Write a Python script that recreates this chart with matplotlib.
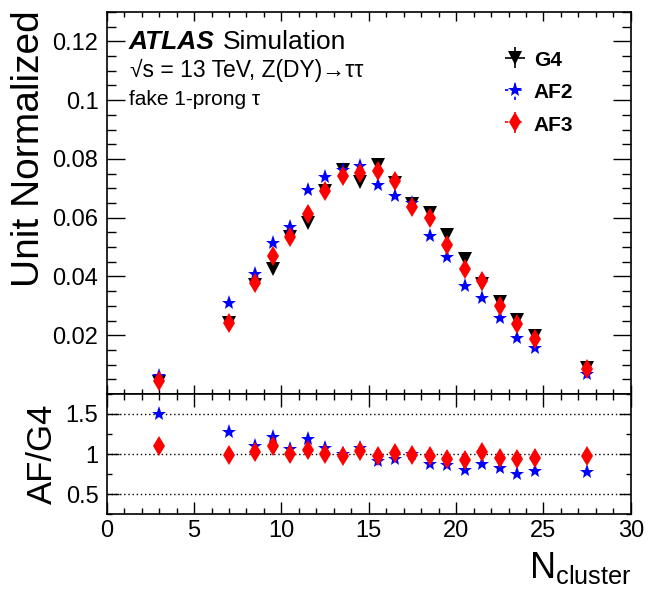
import numpy as np
import matplotlib
matplotlib.use("Agg")
import matplotlib.pyplot as plt
from matplotlib.ticker import MultipleLocator

plt.rcParams['font.family'] = ['Liberation Sans', 'DejaVu Sans']
plt.rcParams['mathtext.fontset'] = 'custom'
plt.rcParams['mathtext.rm'] = 'Liberation Sans'

# N_cluster bin centres
n_cluster = [3, 7, 8.5, 9.5, 10.5, 11.5, 12.5, 13.5, 14.5, 15.5, 16.5,
             17.5, 18.5, 19.5, 20.5, 21.5, 22.5, 23.5, 24.5, 27.5]

# unit normalized distributions
g4 = [0.0040, 0.0243, 0.0372, 0.0425, 0.0535, 0.0583, 0.0692, 0.0762, 0.0722, 0.0778,
      0.0718, 0.0648, 0.0615, 0.0540, 0.0460, 0.0375, 0.0312, 0.0252, 0.0198, 0.0087]
af2 = [0.0060, 0.0311, 0.0407, 0.0514, 0.0567, 0.0694, 0.0740, 0.0762, 0.0776, 0.0712,
       0.0675, 0.0651, 0.0538, 0.0467, 0.0368, 0.0328, 0.0257, 0.0189, 0.0157, 0.0067]
af3 = [0.0044, 0.0241, 0.0379, 0.0468, 0.0535, 0.0612, 0.0692, 0.0743, 0.0751, 0.0759,
       0.0725, 0.0638, 0.0600, 0.0508, 0.0426, 0.0384, 0.0298, 0.0237, 0.0187, 0.0085]

ratio_af2 = np.array(af2) / np.array(g4)
ratio_af3 = np.array(af3) / np.array(g4)

fig = plt.figure(figsize=(6.58, 5.93), dpi=100)
ax = fig.add_axes([0.1622, 0.3356, 0.7965, 0.6442])
rax = fig.add_axes([0.1622, 0.1332, 0.7965, 0.2024])

# top panel
ax.plot(n_cluster, g4, 'v', color='black', ms=10, mew=0, zorder=3)
ax.plot(n_cluster, af2, '*', color='blue', ms=11, mew=0, zorder=4)
ax.plot(n_cluster, af3, 'd', color='red', ms=10, mew=0, zorder=5)

# legend proxies with error bars like ROOT
h_g4 = ax.errorbar([np.nan], [np.nan], xerr=[1], yerr=[1], fmt='v', color='black',
                   ms=10, mew=0, elinewidth=1.2, capsize=0)
h_af2 = ax.errorbar([np.nan], [np.nan], xerr=[1], yerr=[1], fmt='*', color='blue',
                    ms=11, mew=0, elinewidth=1.2, capsize=0)
h_af3 = ax.errorbar([np.nan], [np.nan], xerr=[1], yerr=[1], fmt='d', color='red',
                    ms=10, mew=0, elinewidth=1.2, capsize=0)
for h in (h_af2, h_af3):
    for coll in h[2]:
        coll.set_linestyle((0, (2, 2)))

leg = ax.legend([h_g4, h_af2, h_af3], ['G4', 'AF2', 'AF3'], loc='upper left',
                bbox_to_anchor=(0.757, 0.902), frameon=False, borderpad=0,
                borderaxespad=0, handlelength=1.1, handleheight=1.0,
                handletextpad=0.35, labelspacing=0.57,
                prop={'weight': 'bold', 'size': 15})

ax.set_xlim(0, 30)
ax.set_ylim(0, 0.13)
ax.set_yticks([0.02, 0.04, 0.06, 0.08, 0.1, 0.12])
ax.set_yticklabels(['0.02', '0.04', '0.06', '0.08', '0.1', '0.12'])
ax.yaxis.set_minor_locator(MultipleLocator(0.005))
ax.xaxis.set_major_locator(MultipleLocator(5))
ax.xaxis.set_minor_locator(MultipleLocator(1))
ax.tick_params(axis='both', which='both', direction='in', top=True, right=True,
               labelsize=17, width=1.0)
ax.tick_params(axis='y', which='major', length=13, pad=6)
ax.tick_params(axis='y', which='minor', length=6.5)
ax.tick_params(axis='x', which='major', length=6.5, labelbottom=False)
ax.tick_params(axis='x', which='minor', length=3.5)

ax.text(0.041, 0.903, 'ATLAS', transform=ax.transAxes, fontsize=19,
        fontweight='bold', fontstyle='italic', va='baseline')
ax.text(0.222, 0.903, 'Simulation', transform=ax.transAxes, fontsize=19,
        va='baseline')
ax.text(0.045, 0.830, '\u221as = 13 TeV, Z(DY)\u2192\u03c4\u03c4', transform=ax.transAxes,
        fontsize=16.5, va='baseline')
ax.text(0.043, 0.756, 'fake 1-prong \u03c4', transform=ax.transAxes,
        fontsize=15, va='baseline')

# ratio panel
for y in (0.5, 1.0, 1.5):
    rax.axhline(y, color='black', ls=(0, (1, 2)), lw=1.0, zorder=1)
rax.plot(n_cluster, ratio_af2, '*', color='blue', ms=11, mew=0, zorder=4)
rax.plot(n_cluster, ratio_af3, 'd', color='red', ms=10, mew=0, zorder=5)

rax.set_xlim(0, 30)
rax.set_ylim(0.25, 1.75)
rax.set_yticks([0.5, 1.0, 1.5])
rax.set_yticklabels(['0.5', '1', '1.5'])
rax.yaxis.set_minor_locator(MultipleLocator(0.25))
rax.xaxis.set_major_locator(MultipleLocator(5))
rax.xaxis.set_minor_locator(MultipleLocator(1))
rax.tick_params(axis='both', which='both', direction='in', top=True, right=True,
                labelsize=17, width=1.0)
rax.tick_params(axis='y', which='major', length=8.5, pad=6)
rax.tick_params(axis='y', which='minor', length=3.6)
rax.tick_params(axis='x', which='major', length=9, pad=4)
rax.tick_params(axis='x', which='minor', length=4.5)

for a in (ax, rax):
    for s in a.spines.values():
        s.set_linewidth(1.2)

fig.text(0.044, 0.983, 'Unit Normalized', rotation=90, ha='center', va='top',
         fontsize=28)
fig.text(0.064, 0.234, 'AF/G4', rotation=90, ha='center', va='center', fontsize=25)
fig.text(0.959, 0.025, r'N$_{\rm cluster}$', ha='right', va='baseline', fontsize=26)

fig.savefig('out.png', dpi=100)
